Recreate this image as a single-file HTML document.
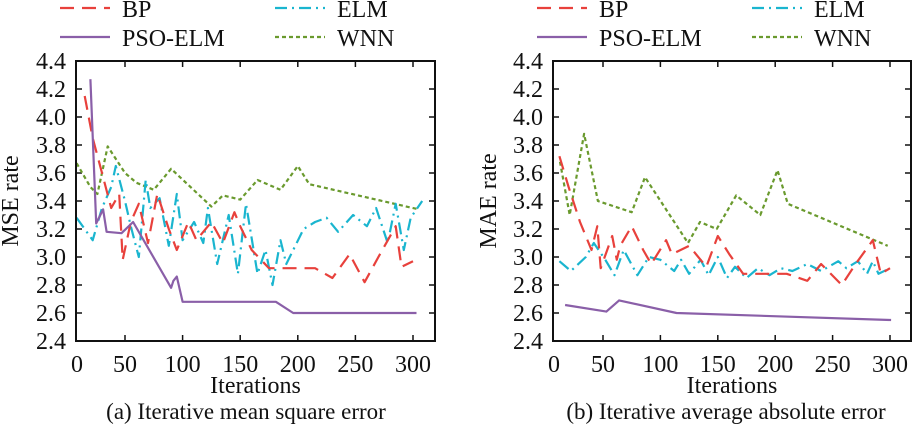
<!DOCTYPE html>
<html><head><meta charset="utf-8"><style>
body{margin:0;background:#fff;}
svg{display:block;}
text{font-family:"Liberation Serif","DejaVu Serif",serif;}
</style></head><body>
<svg id="svg" width="913" height="425" viewBox="0 0 913 425"></svg>
<script>
const xTicks=[0,50,100,150,200,250,300];
const yTicks=["2.4","2.6","2.8","3.0","3.2","3.4","3.6","3.8","4.0","4.2","4.4"];
const seriesNames=["BP","ELM","PSO-ELM","WNN"];
// Chart A data
const aBPx=[15,22,30,38,45,48,55,62,70,78,88,95,105,112,125,135,145,150,160,175,185,200,215,230,245,258,270,285,290,300];
const aBPy=[4.15,3.85,3.6,3.35,3.45,2.98,3.25,3.38,3.1,3.45,3.2,3.05,3.25,3.12,3.25,3.1,3.32,3.22,3.05,2.92,2.92,2.92,2.92,2.85,3.02,2.82,3.0,3.22,2.93,2.97];
const aELMx=[8,22,30,38,42,50,55,62,68,72,80,88,95,100,110,118,122,130,140,148,155,165,172,178,185,190,205,215,225,235,248,260,268,278,285,292,298,308];
const aELMy=[3.28,3.12,3.35,3.5,3.65,3.4,3.22,3.0,3.55,3.35,3.42,3.08,3.45,3.12,3.25,3.1,3.35,2.95,3.3,2.88,3.38,2.88,3.05,2.8,3.12,2.95,3.2,3.25,3.28,3.18,3.3,3.22,3.35,3.1,3.38,3.05,3.28,3.4];
const aPSOx=[20,25,31,34,47,57,90,92,95,100,181,196,303];
const aPSOy=[4.27,3.24,3.34,3.18,3.17,3.25,2.78,2.83,2.86,2.68,2.68,2.6,2.6];
const aWNNx=[8,20,26,35,50,60,75,90,125,135,150,165,185,200,210,305];
const aWNNy=[3.67,3.5,3.45,3.79,3.6,3.53,3.48,3.63,3.36,3.44,3.41,3.55,3.48,3.65,3.52,3.34];
// Chart B data
const bBPx=[12,20,30,40,45,48,58,62,65,75,85,92,105,110,125,140,150,160,172,190,210,228,240,258,270,285,292,300];
const bBPy=[3.72,3.5,3.25,3.05,3.22,2.92,3.15,2.98,3.08,3.22,3.05,2.95,3.12,3.02,3.08,2.93,3.15,3.02,2.88,2.88,2.88,2.83,2.95,2.8,2.95,3.12,2.88,2.92];
const bELMx=[12,22,35,42,52,60,68,80,90,100,112,118,125,135,142,150,158,165,175,185,195,205,215,228,240,255,262,272,280,285,290,300];
const bELMy=[2.97,2.9,3.0,3.1,2.98,2.87,3.05,2.87,3.0,2.98,2.9,2.98,2.88,2.98,2.87,3.0,2.85,2.93,2.85,2.92,2.87,2.92,2.9,2.95,2.9,2.97,2.92,2.97,2.88,2.97,2.88,2.92];
const bPSOx=[17,53,64,114,301];
const bPSOy=[2.657,2.61,2.69,2.6,2.55];
const bWNNx=[12.5,21,33.5,45.6,75,86.6,124,134.5,149,166,187,202,211,298];
const bWNNy=[3.68,3.3,3.88,3.4,3.32,3.57,3.1,3.25,3.2,3.44,3.3,3.62,3.38,3.08];

const NS="http://www.w3.org/2000/svg";
const svg=document.getElementById('svg');
const FF='"Liberation Serif", "DejaVu Serif", serif';
function mk(tag,attrs,parent,text){const e=document.createElementNS(NS,tag);for(const k in attrs)e.setAttribute(k,attrs[k]);if(tag==='text'){e.setAttribute('font-family',FF);e.style.fontFamily=FF;}if(text!==undefined)e.textContent=text;(parent||svg).appendChild(e);return e;}
const styles={
 "BP":{stroke:"#e8413c",dash:"14 8"},
 "ELM":{stroke:"#1ab5cf",dash:"12 5 2 5"},
 "PSO-ELM":{stroke:"#8a5fa8",dash:""},
 "WNN":{stroke:"#6a9a2e",dash:"4 3"}
};
function chart(cfg){
 const g=mk('g',{});
 
 
 const X=v=>cfg.x50+(v-50)*cfg.kx;
 const Y=v=>cfg.bottom-(v-2.4)*140;
 const L=cfg.left,R=cfg.right,T=61,B=cfg.bottom;
 xTicks.forEach(t=>{
  const px=t===0?L+1:X(t);
  if(t>0){mk('line',{x1:px,y1:B,x2:px,y2:B-6,stroke:'#111','stroke-width':1.5},g);mk('line',{x1:px,y1:T,x2:px,y2:T+6,stroke:'#111','stroke-width':1.5},g);}
  const tl=mk('text',{x:px,y:B+31,'text-anchor':'middle','font-size':24,fill:'#111'},g,String(t));
  
  
 });
 yTicks.forEach(t=>{
  const py=Y(parseFloat(t));
  mk('line',{x1:L,y1:py,x2:L+6,y2:py,stroke:'#111','stroke-width':1.5},g);
  mk('line',{x1:R,y1:py,x2:R-6,y2:py,stroke:'#111','stroke-width':1.5},g);
  const tl=mk('text',{x:L-10,y:py+8,'text-anchor':'end','font-size':24,fill:'#111'},g,t);
  
  
 });
 cfg.series.forEach(s=>{
  const st=styles[s.n];
  const d=s.x.map((v,i)=>(i?'L':'M')+X(v).toFixed(1)+' '+Y(s.y[i]).toFixed(1)).join(' ');
  const p=mk('path',{d:d,fill:'none',stroke:st.stroke,'stroke-width':2.2,'stroke-dasharray':st.dash,'stroke-linejoin':'round'},g);
  
  
 });
 const box=mk('rect',{x:L,y:T,width:R-L,height:B-T,fill:'none',stroke:'#111','stroke-width':2},g);
 
 
 const xt=mk('text',{x:(L+R)/2,y:393,'text-anchor':'middle','font-size':24,fill:'#111'},g,'Iterations');
 
 
 const yt=mk('text',{x:0,y:0,'text-anchor':'middle','font-size':24,fill:'#111',transform:`translate(${cfg.ylx},${(T+B)/2}) rotate(-90)`},g,cfg.ylabel);
 
 
 const cap=mk('text',{x:cfg.capx,y:419,'text-anchor':'middle','font-size':23,fill:'#111'},g,cfg.caption);
 
 
 const lg=[["BP",cfg.lx1,8],["ELM",cfg.lx2,8],["PSO-ELM",cfg.lx1,37],["WNN",cfg.lx2,37]];
 lg.forEach(([n,lx,ly])=>{
  const e=mk('g',{},g);
  
  
  mk('line',{x1:lx,y1:ly,x2:lx+50,y2:ly,stroke:styles[n].stroke,'stroke-width':2.2,'stroke-dasharray':styles[n].dash},e);
  mk('text',{x:lx+62,y:ly+9,'font-size':24,fill:'#111'},e,n);
 });
}
chart({name:'chart-mse',left:76,right:435,bottom:341,x50:125,kx:1.152,ylx:18,ylabel:'MSE rate',capx:246,caption:'(a) Iterative mean square error',lx1:60,lx2:275,
 series:[{n:'WNN',x:aWNNx,y:aWNNy},{n:'ELM',x:aELMx,y:aELMy},{n:'BP',x:aBPx,y:aBPy},{n:'PSO-ELM',x:aPSOx,y:aPSOy}]});
chart({name:'chart-mae',left:553,right:911,bottom:341,x50:603,kx:1.148,ylx:496,ylabel:'MAE rate',capx:726,caption:'(b) Iterative average absolute error',lx1:537,lx2:752,
 series:[{n:'WNN',x:bWNNx,y:bWNNy},{n:'ELM',x:bELMx,y:bELMy},{n:'BP',x:bBPx,y:bBPy},{n:'PSO-ELM',x:bPSOx,y:bPSOy}]});
</script>
</body></html>
